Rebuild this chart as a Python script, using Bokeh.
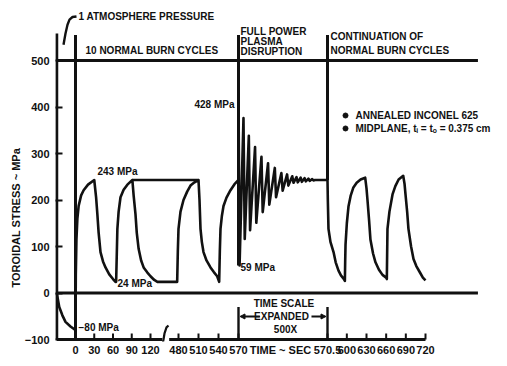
import math
from bokeh.plotting import figure
from bokeh.models import Range1d, FixedTicker, Arrow, NormalHead, Title
from bokeh.core.properties import value
from bokeh.embed import file_html
from bokeh.resources import INLINE

# ---------------- data: time (s) and toroidal stress (MPa) ----------------
# 1 atmosphere pressurisation before start
atm_t = [-30, -26, -21, -16, -8, -3, 0]
atm_s = [0, -30, -48, -62, -72, -77, -80]
# 10 normal burn cycles (first two and last two drawn)
rise1_t = [0, 0.5, 1.5, 3, 5, 9, 13, 20, 30]
rise1_s = [-80, 40, 115, 160, 187, 210, 221, 233, 243]
fall1_t = [30, 33, 35, 37, 40, 44, 48, 54, 60, 64]
fall1_s = [243, 205, 169, 130, 88, 68, 55, 40, 30, 24]
rise2_t = [65, 66, 67, 69, 72, 77, 83, 91]
rise2_s = [24, 80, 138, 175, 206, 222, 233, 243]
fall2_t = [91, 93, 96, 98, 101, 105, 109, 115, 120, 126, 131]
fall2_s = [243, 210, 169, 130, 95, 70, 55, 44, 36, 28, 24]
rise3_t = [478, 479, 480, 483, 487.5, 493, 498, 504, 510]
rise3_s = [24, 90, 138, 175, 200, 218, 231, 238, 243]
fall3_t = [510, 511.5, 513, 515, 517.5, 522, 528, 533, 538, 541]
fall3_s = [243, 200, 138, 110, 88, 70, 55, 45, 36, 24]
rise4_t = [541, 542, 543, 545, 547.5, 552, 558, 564, 570]
rise4_s = [24, 90, 138, 165, 187, 205, 221, 234, 243]
# envelope of the omitted cycles
env_t = [91, 510]
env_s = [243, 243]
# full power plasma disruption (seconds after 570 s)
osc_top_dt = [0.000, 0.028, 0.058, 0.093, 0.129, 0.166, 0.204, 0.241, 0.273, 0.302, 0.326, 0.349, 0.371, 0.393, 0.414]
osc_top_s = [428, 376, 338, 314, 293, 279, 269, 258, 255, 251, 249, 248, 247, 246, 245]
osc_bot_dt = [0.006, 0.035, 0.065, 0.100, 0.136, 0.173, 0.211, 0.248, 0.280, 0.309, 0.333, 0.356, 0.378, 0.400, 0.421]
osc_bot_s = [59, 116, 135, 151, 174, 190, 206, 220, 231, 237, 238, 239, 240, 241, 242]
settle_dt = [0.43, 0.5]
settle_s = [243, 243]
# continuation of normal burn cycles
fall5_t = [570.5, 571, 572, 575, 579.7, 583, 587.3, 591, 595, 597]
fall5_s = [243, 200, 138, 110, 88, 66, 48, 38, 31, 26]
rise5_t = [597.5, 598, 600, 602.5, 606, 610, 615, 621, 628]
rise5_s = [70, 104, 150, 186, 210, 227, 237, 244, 248]
fall6_t = [630, 631.5, 634, 636, 640, 643.7, 649, 654.4, 660, 661]
fall6_s = [225, 200, 155, 115, 85, 66, 50, 39, 33, 30]
rise6_t = [661.5, 662, 665, 669.7, 674, 679, 686]
rise6_s = [85, 138, 175, 212, 230, 244, 252]
fall7_t = [688, 689.5, 692, 694, 698, 701.7, 706, 712, 716, 720]
fall7_s = [235, 212, 175, 138, 100, 73, 58, 43, 33, 27]

# axes
time_ticks = [0, 30, 60, 90, 120, 480, 510, 540, 570, 570.5, 600, 630, 660, 690, 720]
stress_ticks = [-100, 0, 100, 200, 300, 400, 500]
ref_levels = [500, 0]          # horizontal reference lines (MPa)
divider_t = [0, 570, 570.5]    # region boundaries (s)
divider_lo = [-100, 59, 243]   # lower end of each boundary line (MPa)

# ---------------- broken / expanded time scale ----------------
# (t_hi, t_ref, u_ref, px_per_s)
SEG = [
    (140.0, 0.0, 0.0, 0.625),
    (570.0, 480.0, 103.0, 2.0 / 3.0),
    (570.5, 570.0, 163.0, 178.0),
    (1e9, 570.5, 252.0, 0.6555),
]


def to_u(t):
    for hi, tref, uref, rate in SEG:
        if t <= hi + 1e-9:
            return round(uref + rate * (t - tref), 4)


def U(ts):
    return [to_u(t) for t in ts]


T_AXIS = -30      # time at the stress axis
T_LINE_END = 800  # right end of reference lines
TOP = 555         # top of vertical lines (MPa)
INK = "#111111"
FONT = "Liberation Sans"
X_TITLE_U = 205   # position of the time-axis title along the axis

PXS = 0.465  # px per MPa
Y1 = 500 + 60 / PXS
Y0 = Y1 - 341 / PXS

p = figure(width=505, height=364, x_range=Range1d(-20, 430), y_range=Range1d(Y0, Y1),
           output_backend="svg", toolbar_location=None,
           min_border_left=55, min_border_right=0, min_border_top=0, min_border_bottom=23)
p.outline_line_color = None
p.grid.visible = False
p.background_fill_color = "white"

# axes styling
x_tick_u = U(time_ticks) + [X_TITLE_U]
overrides = {to_u(t): ("570.5" if t == 570.5 else str(int(t))) for t in time_ticks}
overrides[X_TITLE_U] = "TIME ~ SEC"
p.xaxis.ticker = FixedTicker(ticks=x_tick_u)
p.xaxis.major_label_overrides = overrides
p.xaxis.major_tick_line_color = None
p.yaxis.ticker = FixedTicker(ticks=stress_ticks)
p.yaxis.major_tick_line_color = INK
for ax in (p.xaxis, p.yaxis):
    ax.axis_line_color = None
    ax.major_tick_out = 0
    ax.minor_tick_line_color = None
    ax.major_tick_line_width = 2
    ax.major_label_text_font = FONT
    ax.major_label_text_font_style = "bold"
    ax.major_label_text_font_size = "11px"
    ax.major_label_text_color = INK
p.xaxis.major_label_standoff = 2
p.yaxis.major_tick_in = 7
p.yaxis.major_label_standoff = 6

p.add_layout(Title(text="TOROIDAL STRESS ~ MPa", align="left", offset=54, standoff=0,
                   text_font=FONT, text_font_style="bold", text_font_size="11px",
                   text_color=INK), "left")

LW = 2.6
# stress axis line
p.line(U([T_AXIS, T_AXIS]), [-100, 558], line_color=INK, line_width=3)
# bottom time axis with break, and its tick marks
p.line(U([T_AXIS, 139]), [-100, -100], line_color=INK, line_width=3)
p.line(U([466, 720]), [-100, -100], line_color=INK, line_width=3)
p.line([85, 87, 88, 89, 91, 93], [-117, -111, -100, -87, -74, -70], line_color=INK, line_width=2.2)
p.segment(x0=U(time_ticks), y0=[-100] * len(time_ticks), x1=U(time_ticks), y1=[-87] * len(time_ticks),
          line_color=INK, line_width=2)
# reference levels
for lv in ref_levels:
    p.line(U([T_AXIS, T_LINE_END]), [lv, lv], line_color=INK, line_width=3)
# region dividers
for t, lo in zip(divider_t, divider_lo):
    p.line(U([t, t]), [lo, TOP], line_color=INK, line_width=3)

# main stress history
curve_t, curve_s = [], []
for ts, ss in [(atm_t, atm_s), (rise1_t, rise1_s), (fall1_t, fall1_s), (rise2_t, rise2_s),
               (fall2_t, fall2_s), (rise3_t, rise3_s), (fall3_t, fall3_s), (rise4_t, rise4_s)]:
    curve_t += ts
    curve_s += ss
for a, b, c, d in zip(osc_top_dt, osc_top_s, osc_bot_dt, osc_bot_s):
    curve_t += [570 + a, 570 + c]
    curve_s += [b, d]
curve_t += [570 + d for d in settle_dt]
curve_s += settle_s
for ts, ss in [(fall5_t, fall5_s), (rise5_t, rise5_s), (fall6_t, fall6_s), (rise6_t, rise6_s), (fall7_t, fall7_s)]:
    curve_t += ts
    curve_s += ss
p.line(U(curve_t), curve_s, line_color=INK, line_width=LW, line_join="round")
p.line(U(env_t), env_s, line_color=INK, line_width=LW)


def txt(x, y, s, align="left", size="10px"):
    p.text(x=[x], y=[y], text=[s], text_font=value(FONT), text_font_style="bold",
           text_font_size=size, text_color=INK, text_align=align, text_baseline="middle")


# leader for 1 atmosphere pressure
p.line([-12, -10, -8, -6, -3, 1], [534, 558, 577, 588, 593.5, 594.6], line_color=INK, line_width=2.4)
txt(3, 594.6, "1 ATMOSPHERE PRESSURE")
txt(10, 521.5, "10 NORMAL BURN CYCLES")
txt(165, 562.4, "FULL POWER")
txt(165, 540.9, "PLASMA")
txt(165, 519.4, "DISRUPTION")
txt(255, 551.6, "CONTINUATION OF")
txt(255, 521.5, "NORMAL BURN CYCLES")
p.scatter([270, 270], [381.7, 353.8], size=5, color=INK)
txt(280, 381.7, "ANNEALED INCONEL 625")
txt(280, 353.8, "MIDPLANE, t\u1d62 = t\u2092 = 0.375 cm")
txt(42, 261.3, "243 MPa", align="center")
txt(159, 405.4, "428 MPa", align="right")
txt(42, 19.4, "24 MPa")
txt(3, -74.2, "\u221280 MPa")
txt(165, 55, "59 MPa")
# time scale expanded bracket
txt(208.5, -22.6, "TIME SCALE", align="center")
txt(206, -50.5, "EXPANDED", align="center")
txt(210, -78.5, "500X", align="center")
for t in [570, 570.5]:
    p.line(U([t, t]), [-30, -100], line_color=INK, line_width=2.4)
p.add_layout(Arrow(end=NormalHead(size=5, fill_color=INK, line_color=INK), line_color=INK, line_width=2,
                   x_start=to_u(570.12), y_start=-50.5, x_end=to_u(570.0) + 1.5, y_end=-50.5))
p.add_layout(Arrow(end=NormalHead(size=5, fill_color=INK, line_color=INK), line_color=INK, line_width=2,
                   x_start=to_u(570.41), y_start=-50.5, x_end=to_u(570.5) - 1.5, y_end=-50.5))

open("out.html", "w").write(file_html(p, INLINE))
